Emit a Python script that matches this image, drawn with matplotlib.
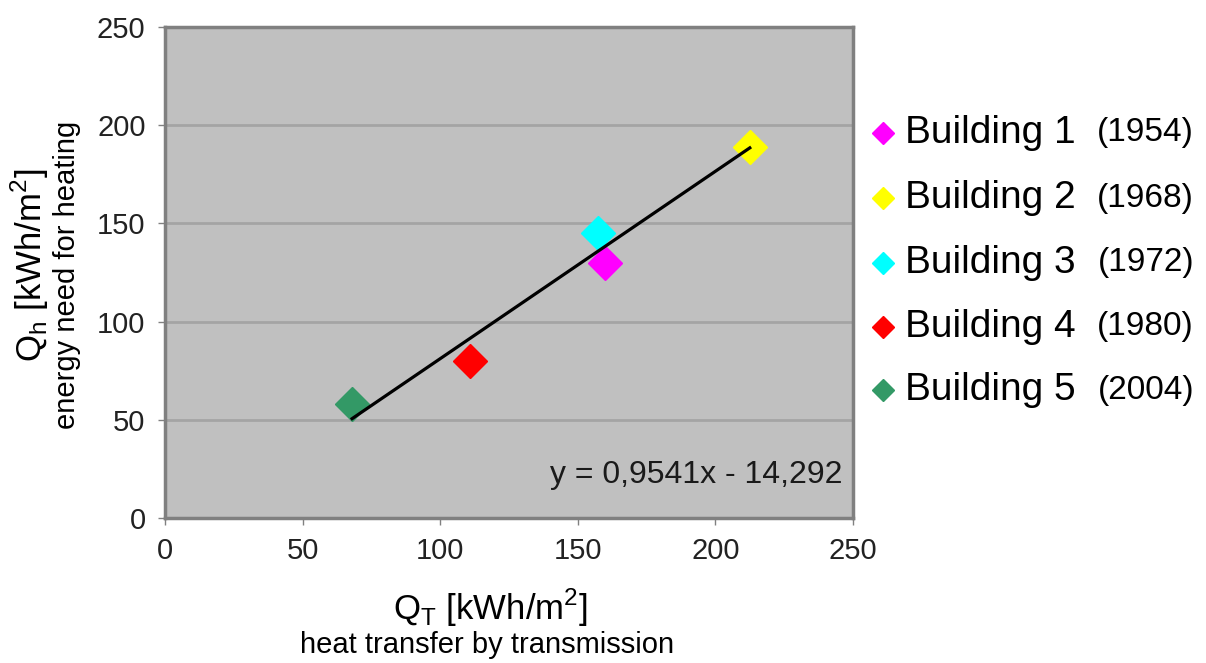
import numpy as np
import matplotlib.pyplot as plt
from matplotlib.lines import Line2D

plt.rcParams['font.family'] = ['Liberation Sans', 'DejaVu Sans']

# data
buildings = ['Building 1', 'Building 2', 'Building 3', 'Building 4', 'Building 5']
years = ['(1954)', '(1968)', '(1972)', '(1980)', '(2004)']
q_t = [160, 212.5, 157.5, 111, 68]
q_h = [130, 189, 145, 80, 58]
colors = ['#ff00ff', '#ffff00', '#00ffff', '#ff0000', '#339966']
slope, intercept = 0.9541, -14.292

fig = plt.figure(figsize=(12.06, 6.63), dpi=100)
ax = fig.add_axes([0.1368, 0.2187, 0.5705, 0.7406])
ax.set_facecolor('#c0c0c0')

ax.set_xlim(0, 250)
ax.set_ylim(0, 250)
ax.set_xticks(np.arange(0, 251, 50))
ax.set_yticks(np.arange(0, 251, 50))
ax.tick_params(labelsize=21, length=5, width=1, color='#808080', pad=9,
               labelcolor='#222222')
ax.grid(axis='y', color='#a4a4a4', linewidth=2)
ax.set_axisbelow(True)
for s in ax.spines.values():
    s.set_color('#808080')
    s.set_linewidth(2.5)

for x, y, c in zip(q_t, q_h, colors):
    ax.plot(x, y, marker='D', markersize=17, color=c, linestyle='none', zorder=3)

# linear trend line over the data range
xs = np.array([min(q_t), max(q_t)])
ax.plot(xs, slope * xs + intercept, color='black', linewidth=2.3, zorder=4)

ax.text(0.985, 0.088, 'y = 0,9541x - 14,292', transform=ax.transAxes,
        ha='right', va='center', fontsize=23, color='#1a1a1a')

# axis labels
fig.text(490 / 1206, 1 - 608 / 663, r'Q$_\mathregular{T}$ [kWh/m$^\mathregular{2}$]',
         ha='center', va='center', fontsize=25)
fig.text(487 / 1206, 1 - 645 / 663, 'heat transfer by transmission',
         ha='center', va='center', fontsize=21)
fig.text(30 / 1206, 1 - 265 / 663, r'Q$_\mathregular{h}$ [kWh/m$^\mathregular{2}$]',
         ha='center', va='center', fontsize=25, rotation=90)
fig.text(67 / 1206, 1 - 275 / 663, 'energy need for heating',
         ha='center', va='center', fontsize=21, rotation=90)

# legend drawn by hand
leg_y = [133, 198, 263, 327, 390]
for name, yr, c, ly in zip(buildings, years, colors, leg_y):
    fy = 1 - ly / 663
    fig.add_artist(Line2D([883 / 1206], [fy], marker='D', markersize=11,
                          color=c, linestyle='none', transform=fig.transFigure))
    fig.text(905 / 1206, fy, name, ha='left', va='center', fontsize=28)
    fig.text(1194 / 1206, fy, yr, ha='right', va='center', fontsize=24)

fig.savefig('out.png', dpi=100)
